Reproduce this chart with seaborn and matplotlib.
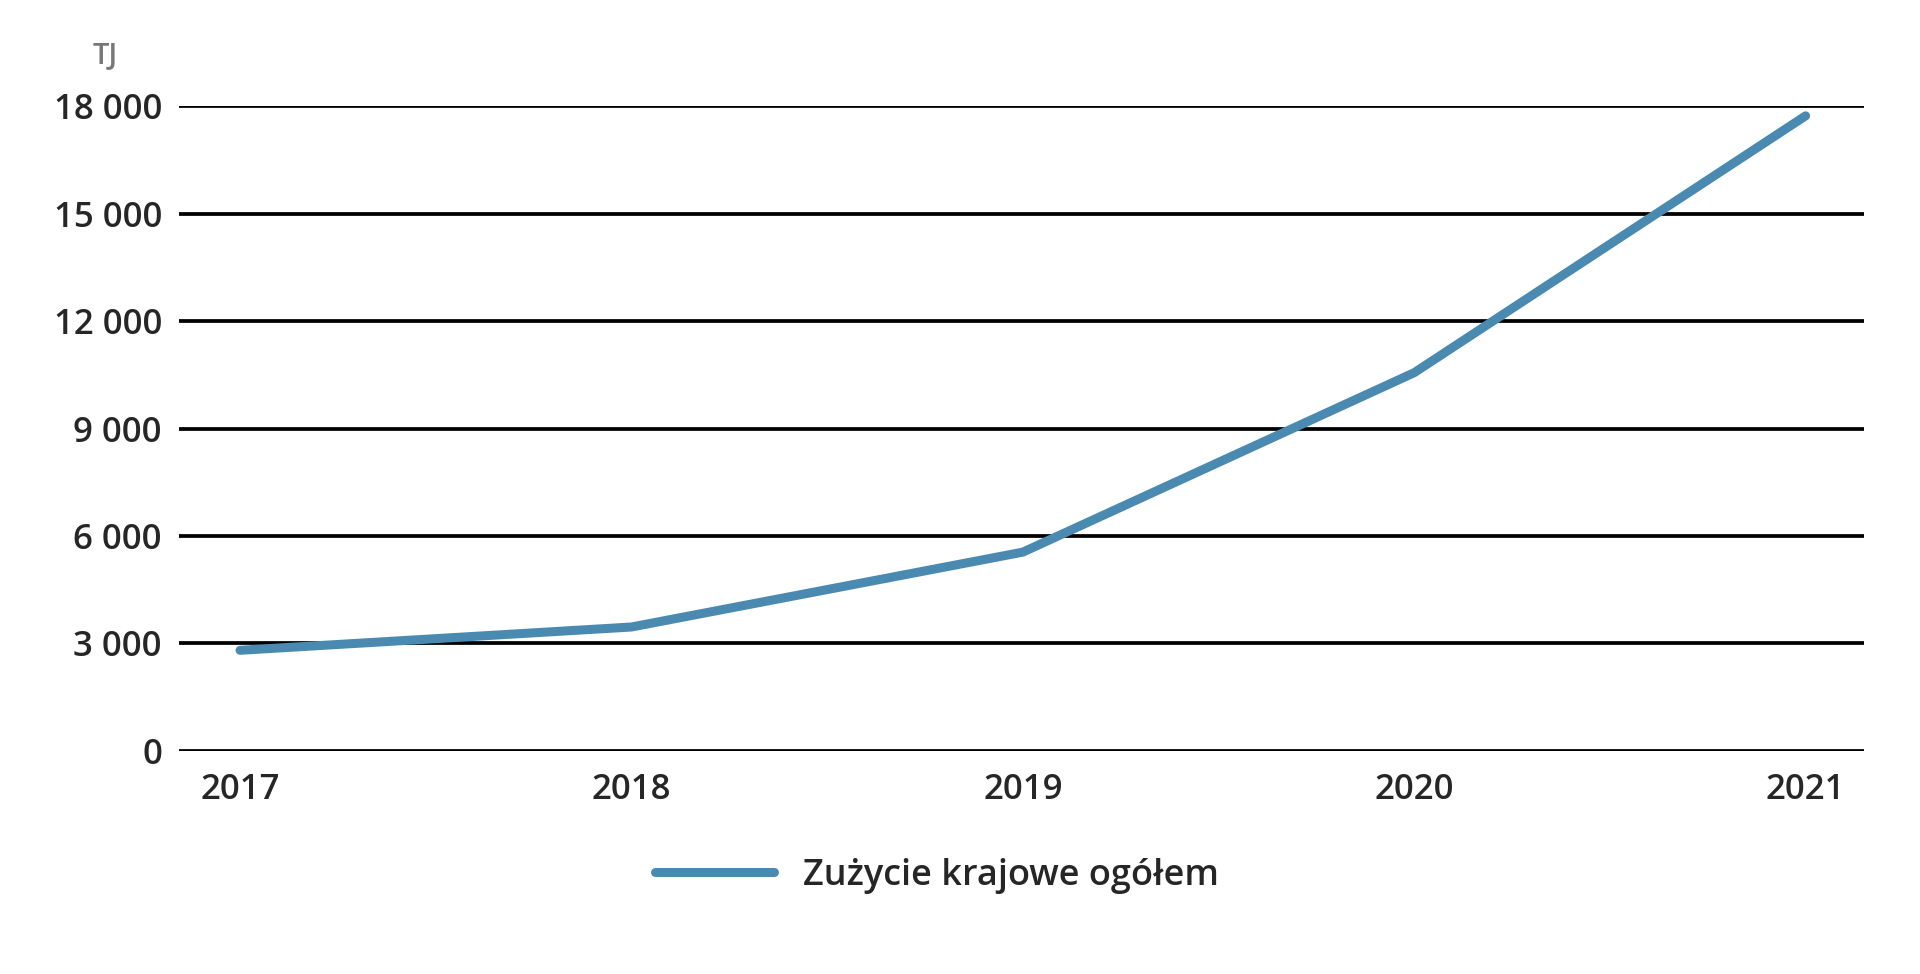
import matplotlib
matplotlib.use("Agg")
import matplotlib.pyplot as plt
import seaborn as sns
import pandas as pd

# dane
years = [2017, 2018, 2019, 2020, 2021]
values = [2810, 3460, 5550, 10560, 17730]
y_ticks = [0, 3000, 6000, 9000, 12000, 15000, 18000]
y_labels = ["0", "3 000", "6 000", "9 000", "12 000", "15 000", "18 000"]
series_name = "Zużycie krajowe ogółem"

sns.set_style("white")
plt.rcParams['font.family'] = ['Open Sans', 'DejaVu Sans']

df = pd.DataFrame({"rok": years, "TJ": values})

fig = plt.figure(figsize=(19.2, 9.74), dpi=100)
ax = fig.add_axes([0.093, 0.229, 0.878, 0.662])

for t in y_ticks:
    ax.axhline(t, color="black", lw=2.7, zorder=1)

sns.lineplot(data=df, x="rok", y="TJ", ax=ax, color="#4a8ab0", lw=6.5,
             solid_capstyle="round", label=series_name, zorder=3)

ax.set_xlim(2017 - 0.157, 2021 + 0.15)
ax.set_ylim(0, 18000)
ax.set_xticks(years)
ax.set_xticklabels([str(y) for y in years], fontsize=25, fontweight="semibold")
ax.set_yticks(y_ticks)
ax.set_yticklabels(y_labels, fontsize=25, fontweight="semibold")
ax.tick_params(axis="both", length=0, pad=12)
ax.tick_params(axis="x", pad=16)
ax.set_xlabel("")
ax.set_ylabel("")
for s in ax.spines.values():
    s.set_visible(False)

fig.text(0.048, 0.935, "TJ", fontsize=21, fontweight="semibold", color="#777777")

ax.legend(loc="upper center", bbox_to_anchor=(0.45, -0.115), frameon=False,
          prop={"size": 26, "weight": "semibold"}, handlelength=3.3)

fig.savefig("out.png", dpi=100)
